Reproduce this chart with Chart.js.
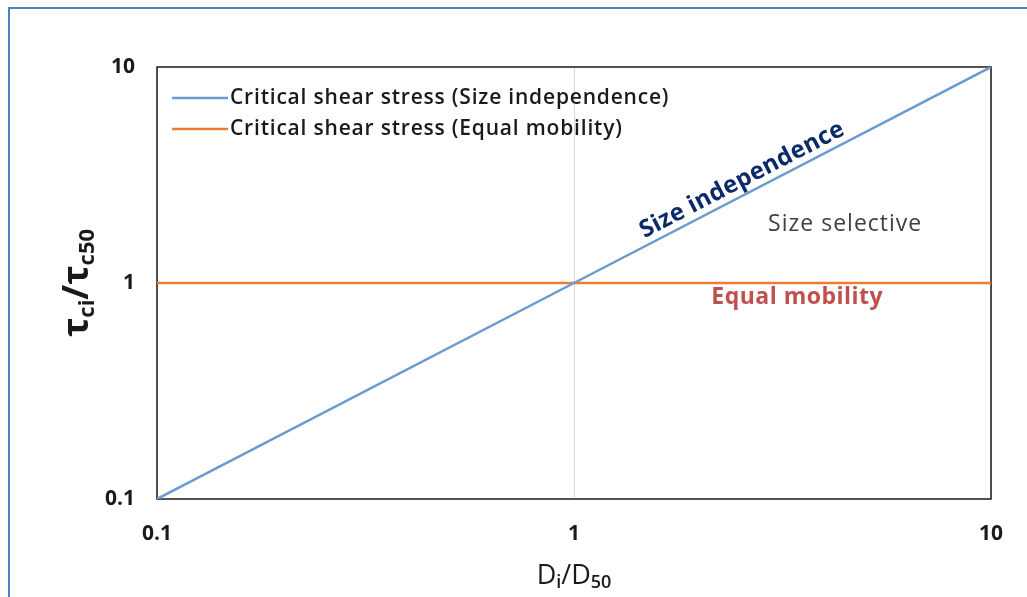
<!DOCTYPE html>
<html>
<head>
<meta charset="utf-8">
<script src="https://cdn.jsdelivr.net/npm/chart.js@4.4.0/dist/chart.umd.min.js"></script>
<style>
html, body { margin: 0; padding: 0; background: #fff; overflow: hidden; }
#frame { position: absolute; left: 8px; top: 7px; width: 1060px; height: 640px; border-left: 2px solid #4F81BD; border-top: 2px solid #4F81BD; }
#wrap { position: absolute; left: 0; top: 0; width: 1027px; height: 597px; }
</style>
</head>
<body>
<div id="frame"></div>
<div id="wrap"><canvas id="chart"></canvas></div>
<script>
const FONT = "'Open Sans', sans-serif";

// data
const sizeIndepX = [0.1, 1, 10];
const sizeIndepY = [0.1, 1, 10];
const equalMobX = [0.1, 1, 10];
const equalMobY = [1, 1, 1];
const xTicks = [0.1, 1, 10];
const yTicks = [0.1, 1, 10];

// text labels placed in data space
const noteTexts = ["Size independence", "Size selective", "Equal mobility"];
const noteX = [2.53, 4.47, 3.43];
const noteY = [3.0, 1.87, 0.853];

const toPoints = (xs, ys) => xs.map((x, i) => ({ x: x, y: ys[i] }));

// draw text runs with subscripts, centred on (0,0) of current transform
function richText(ctx, runs) {
    let total = 0;
    runs.forEach(r => { ctx.font = r.font; r.w = ctx.measureText(r.t).width; total += r.w; });
    let x = -total / 2;
    runs.forEach(r => {
        ctx.font = r.font;
        ctx.fillText(r.t, x, r.dy || 0);
        x += r.w;
    });
}

const extras = {
    id: "extras",
    beforeDatasetsDraw(chart) {
        const { ctx, chartArea: a } = chart;
        ctx.save();
        ctx.strokeStyle = "#1a1a1a";
        ctx.lineWidth = 1.5;
        ctx.strokeRect(a.left, a.top, a.right - a.left, a.bottom - a.top);
        // legend
        ctx.font = "600 21px " + FONT;
        ctx.letterSpacing = "0.8px";
        ctx.textBaseline = "middle";
        ctx.textAlign = "left";
        chart.data.datasets.forEach((ds, i) => {
            const y = a.top + 31 + i * 31;
            ctx.strokeStyle = ds.borderColor;
            ctx.lineWidth = ds.borderWidth;
            ctx.beginPath();
            ctx.moveTo(a.left + 15, y);
            ctx.lineTo(a.left + 71, y);
            ctx.stroke();
            ctx.fillStyle = "#1a1a1a";
            ctx.fillText(ds.label, a.left + 73, y);
        });
        ctx.restore();
    },
    afterDatasetsDraw(chart) {
        const { ctx } = chart;
        const xs = chart.scales.x, ys = chart.scales.y;
        const n = sizeIndepX.length - 1;
        const ang = Math.atan2(
            ys.getPixelForValue(sizeIndepY[n]) - ys.getPixelForValue(sizeIndepY[0]),
            xs.getPixelForValue(sizeIndepX[n]) - xs.getPixelForValue(sizeIndepX[0]));
        const styles = [
            { font: "bold 24px " + FONT, color: "#0B2A6B", rot: ang, sp: "0.3px" },
            { font: "23px " + FONT, color: "#404040", rot: 0, sp: "1px" },
            { font: "bold 23px " + FONT, color: "#C0504D", rot: 0, sp: "0.5px" }
        ];
        ctx.save();
        ctx.textAlign = "center";
        ctx.textBaseline = "middle";
        noteTexts.forEach((t, i) => {
            ctx.save();
            ctx.translate(xs.getPixelForValue(noteX[i]), ys.getPixelForValue(noteY[i]));
            ctx.rotate(styles[i].rot);
            ctx.font = styles[i].font;
            ctx.letterSpacing = styles[i].sp;
            ctx.fillStyle = styles[i].color;
            ctx.fillText(t, 0, 0);
            ctx.restore();
        });
        ctx.restore();
    },
    afterDraw(chart) {
        const { ctx, chartArea: a } = chart;
        ctx.save();
        ctx.fillStyle = "#1a1a1a";
        ctx.textAlign = "left";
        ctx.textBaseline = "middle";
        // y axis title
        ctx.save();
        ctx.translate(78, (a.top + a.bottom) / 2);
        ctx.rotate(-Math.PI / 2);
        const big = "bold 36px " + FONT, small = "bold 22px " + FONT;
        richText(ctx, [
            { t: "τ", font: big }, { t: "ci", font: small, dy: 10 },
            { t: "/", font: big }, { t: "τ", font: big }, { t: "c50", font: small, dy: 10 }
        ]);
        ctx.restore();
        // x axis title
        ctx.save();
        ctx.translate((a.left + a.right) / 2, 576);
        const xb = "27px " + FONT, xs = "600 18px " + FONT;
        richText(ctx, [
            { t: "D", font: xb }, { t: "i", font: xs, dy: 7 },
            { t: "/D", font: xb }, { t: "50", font: xs, dy: 7 }
        ]);
        ctx.restore();
        ctx.restore();
    }
};

const tickFont = { family: FONT, size: 21, weight: "bold" };

new Chart(document.getElementById("chart"), {
    type: "line",
    data: {
        datasets: [
            {
                label: "Critical shear stress (Size independence)",
                data: toPoints(sizeIndepX, sizeIndepY),
                borderColor: "#6A9BCF",
                backgroundColor: "#6A9BCF",
                borderWidth: 2.5,
                pointRadius: 0
            },
            {
                label: "Critical shear stress (Equal mobility)",
                data: toPoints(equalMobX, equalMobY),
                borderColor: "#ED7D31",
                backgroundColor: "#ED7D31",
                borderWidth: 2.5,
                pointRadius: 0
            }
        ]
    },
    options: {
        responsive: true,
        maintainAspectRatio: false,
        animation: false,
        layout: { padding: { top: 67, right: 36, left: 0, bottom: 0 } },
        scales: {
            x: {
                type: "logarithmic",
                min: 0.1,
                max: 10,
                afterBuildTicks: s => { s.ticks = xTicks.map(v => ({ value: v })); },
                afterFit: s => { s.height = 98; },
                grid: { color: "#D9D9D9", lineWidth: 1, drawTicks: false },
                border: { display: false },
                ticks: { font: tickFont, color: "#1a1a1a", padding: 22, maxRotation: 0, callback: v => String(v) }
            },
            y: {
                type: "logarithmic",
                min: 0.1,
                max: 10,
                afterBuildTicks: s => { s.ticks = yTicks.map(v => ({ value: v })); },
                afterFit: s => { s.width = 157; },
                grid: { display: false, drawTicks: false },
                border: { display: false },
                ticks: { font: tickFont, color: "#1a1a1a", padding: 22, callback: v => String(v) }
            }
        },
        plugins: {
            tooltip: { enabled: false },
            legend: { display: false }
        }
    },
    plugins: [extras]
});
</script>
</body>
</html>
